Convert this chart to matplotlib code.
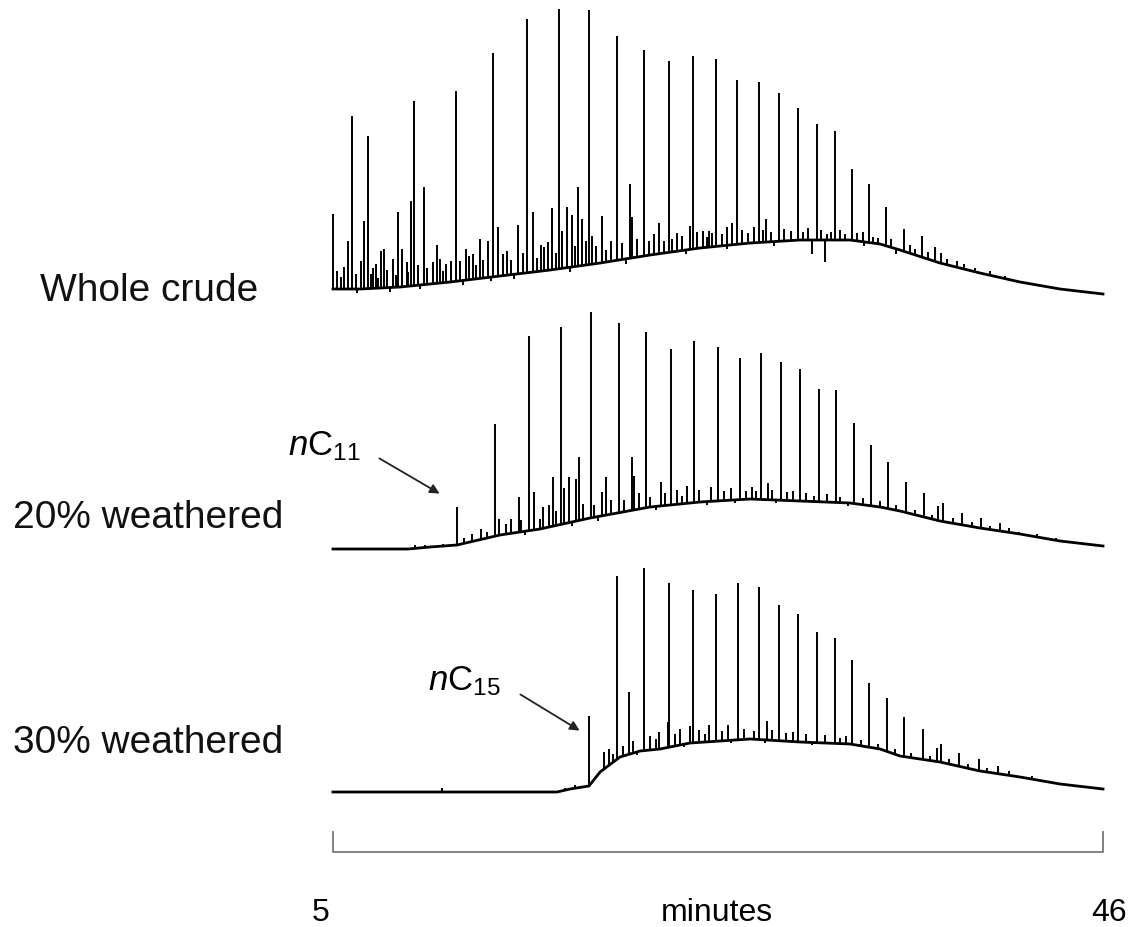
import numpy as np
import matplotlib
matplotlib.use('Agg')
import matplotlib.pyplot as plt

plt.rcParams['font.family'] = ['Liberation Sans', 'DejaVu Sans']
plt.rcParams['mathtext.fontset'] = 'custom'
plt.rcParams['mathtext.rm'] = 'Liberation Sans'
plt.rcParams['mathtext.it'] = 'Liberation Sans:italic'

labels = ['Whole crude', '20% weathered', '30% weathered']

# unresolved hump (baseline) of each trace: minutes, signal
whole_hump_t = [5.00, 6.44, 8.57, 11.23, 13.89, 16.56, 19.22, 21.88, 24.54, 27.21,
                29.87, 32.53, 34.13, 35.19, 37.32, 39.45, 41.58, 43.71, 46.00]
whole_hump_y = [5, 5, 7, 12, 18, 24, 31, 39, 46, 51, 54, 54, 50, 44, 31, 21, 12, 5, 0]

w20_hump_t = [5.00, 9.00, 10.17, 11.60, 13.89, 16.02, 18.69, 21.88, 24.54, 27.21,
              29.87, 32.53, 34.13, 35.19, 37.32, 39.45, 41.58, 43.71, 46.00]
w20_hump_y = [0, 0, 2, 4, 14, 20, 31, 42, 47, 50, 48, 46, 42, 38, 28, 21, 15, 8, 3]

w30_hump_t = [5.00, 16.93, 17.62, 18.63, 19.22, 20.28, 21.35, 22.41, 24.01, 27.21,
              29.87, 32.53, 34.13, 35.19, 37.32, 39.45, 41.58, 43.71, 46.00]
w30_hump_y = [1, 1, 4, 7, 21, 36, 42, 44, 50, 54, 51, 49, 44, 37, 31, 22, 16, 9, 4]

# resolved peaks: retention time (min), apex signal
whole_peak_t = [5.00, 6.01, 6.86, 9.31, 9.85, 11.55, 13.52, 15.33, 17.03, 18.63,
                20.12, 21.56, 22.89, 24.17, 25.39, 26.51, 27.68, 28.75, 29.76, 30.77,
                31.73, 32.64, 33.54, 34.45, 35.41, 36.36, 37.06, 37.38, 38.23]
whole_peak_y = [80, 178, 158, 193, 107, 203, 241, 275, 285, 284,
                258, 244, 233, 238, 235, 214, 212, 201, 186, 170,
                163, 125, 110, 87, 65, 58, 47, 41, 33]
whole_minor_t = [5.80, 6.49, 6.65, 7.29, 7.56, 7.72, 8.20, 8.46, 8.67, 8.94,
                 9.15, 10.54, 10.70, 11.28, 12.08, 12.46, 12.83, 13.25, 13.79, 14.27,
                 14.85, 15.65, 16.08, 16.45, 16.66, 17.19, 17.46, 17.73, 18.05, 18.26,
                 18.79, 19.32, 20.82, 20.92, 22.36, 23.05, 24.01, 24.70, 25.02, 25.98,
                 26.25, 27.42, 28.06, 30.51, 31.20, 31.31, 32.26, 33.22, 33.76]
whole_minor_y = [53, 33, 73, 30, 43, 45, 35, 82, 45, 32,
                 93, 49, 35, 33, 45, 40, 55, 53, 67, 43,
                 69, 82, 49, 52, 86, 63, 87, 79, 107, 75,
                 58, 78, 110, 77, 71, 55, 68, 63, 63, 67,
                 71, 67, 75, 40, 32, 60, 60, 62, 57]

w20_peak_t = [11.60, 13.63, 15.44, 17.14, 18.74, 20.23, 21.67, 23.00, 24.22, 25.50,
              26.67, 27.79, 28.86, 29.87, 30.88, 31.78, 32.74, 33.65, 34.55, 35.51,
              36.47, 37.22, 37.48, 38.49, 39.51, 40.52, 41.53]
w20_peak_y = [42, 125, 213, 222, 237, 226, 217, 200, 208, 202,
              191, 196, 187, 180, 160, 159, 126, 104, 87, 67,
              56, 43, 46, 36, 31, 26, 17]
w20_minor_t = [9.37, 9.90, 10.86, 13.84, 14.90, 15.70, 16.18, 16.50, 16.72, 17.30,
               17.57, 17.94, 18.10, 19.32, 19.54, 20.92, 21.03, 22.47, 23.85, 25.13,
               27.52, 28.16]
w20_minor_y = [4, 4, 5, 30, 52, 57, 42, 44, 72, 61,
               72, 70, 92, 57, 72, 92, 73, 67, 63, 62,
               58, 66]

w30_peak_t = [18.63, 20.12, 21.56, 22.89, 24.17, 25.39, 26.57, 27.68, 28.75, 29.76,
              30.77, 31.73, 32.64, 33.54, 34.50, 35.41, 36.42, 37.16, 37.38, 38.34,
              39.40, 40.41]
w30_peak_y = [77, 217, 225, 210, 203, 199, 210, 206, 188, 179,
              161, 155, 133, 110, 95, 76, 64, 45, 49, 40,
              34, 27]
w30_minor_t = [10.80, 17.35, 17.89, 19.43, 19.70, 20.76, 22.36, 22.84, 24.01, 25.02,
               26.03, 28.11]
w30_minor_y = [5, 5, 8, 41, 44, 101, 61, 71, 67, 68, 68, 72]

# small spikes riding on the hump: time, height relative to hump
whole_noise_t = [5.20, 5.45, 5.60, 6.20, 6.30, 7.00, 7.15, 7.40, 7.90, 8.05,
                 8.35, 9.00, 9.50, 9.65, 10.00, 10.30, 10.85, 11.00, 11.75, 11.90,
                 12.25, 12.60, 13.00, 13.40, 14.05, 14.50, 14.65, 15.10, 15.85, 16.25,
                 16.85, 17.60, 17.90, 18.45, 19.00, 19.55, 19.80, 20.40, 20.60, 21.20,
                 21.80, 22.10, 22.60, 23.30, 23.60, 23.80, 24.40, 24.90, 25.20, 25.70,
                 26.00, 26.80, 27.10, 27.90, 28.30, 28.50, 29.00, 29.40, 30.00, 30.30,
                 31.00, 31.50, 32.00, 32.90, 33.30, 34.00, 34.70, 35.00, 35.70, 36.00,
                 36.70, 37.70, 38.60, 39.20, 40.00, 40.80]
whole_noise_y = [18, 12, 22, 15, -4, 14, 20, 10, 18, -5,
                 12, 14, 20, -4, 16, 22, 12, 18, 20, -5,
                 24, 14, 18, -4, 22, 15, -5, 20, 14, 24,
                 16, -5, 20, 24, 18, 12, 20, 16, -5, 18,
                 14, 20, 12, 18, 14, -4, 16, 10, 14, 12,
                 -4, 14, 10, 12, 10, -4, 12, 10, 8, 12,
                 10, 8, 10, 8, -4, 6, 8, -5, 8, 6,
                 7, 6, 5, 4, 4, 3]

w20_noise_t = [12.00, 12.40, 12.90, 13.20, 14.20, 14.50, 15.00, 15.20, 16.00, 16.90,
               17.70, 18.30, 18.90, 19.10, 19.80, 20.50, 21.30, 21.90, 22.20, 22.70,
               23.30, 23.60, 24.50, 24.90, 25.80, 26.20, 26.40, 27.00, 27.30, 28.40,
               28.60, 29.20, 29.50, 30.20, 30.60, 31.30, 32.00, 32.40, 33.20, 34.10,
               35.00, 36.00, 36.90, 38.00, 39.00, 40.00, 41.00, 42.50, 43.50]
w20_noise_y = [5, 8, 10, 6, 10, 14, 12, -4, 10, 14,
               -4, 16, 12, -4, 14, 12, 16, 10, -4, 12,
               14, 8, 12, -3, 10, 12, -3, 8, 12, 10,
               -3, 8, 10, 8, 6, 8, 6, -3, 7, 6,
               5, 5, 4, 5, 5, 4, 4, 3, 2]

w30_noise_t = [19.90, 20.45, 21.00, 21.20, 21.90, 22.20, 23.20, 23.50, 23.70, 24.50,
               24.80, 25.70, 26.20, 26.90, 27.40, 28.00, 28.40, 29.10, 29.50, 30.20,
               30.50, 31.20, 32.00, 32.30, 33.10, 34.00, 34.90, 35.80, 36.80, 37.80,
               38.80, 39.80, 41.00, 42.20]
w30_noise_y = [8, 10, 12, -3, 14, 10, 12, 16, -3, 12,
               8, 10, -3, 10, 8, -3, 10, 8, 10, 8,
               -3, 8, 6, 8, 6, 5, 5, 5, 5, 5,
               4, 4, 4, 3]

traces = [
    (whole_hump_t, whole_hump_y, whole_peak_t + whole_minor_t, whole_peak_y + whole_minor_y,
     whole_noise_t, whole_noise_y),
    (w20_hump_t, w20_hump_y, w20_peak_t + w20_minor_t, w20_peak_y + w20_minor_y,
     w20_noise_t, w20_noise_y),
    (w30_hump_t, w30_hump_y, w30_peak_t + w30_minor_t, w30_peak_y + w30_minor_y,
     w30_noise_t, w30_noise_y),
]
offsets = [633, 378, 134]
label_pos = [(40, 301), (13, 528), (13, 753)]

W, H = 1134, 928
fig = plt.figure(figsize=(W / 100, H / 100), dpi=100)
ax = fig.add_axes([0, 0, 1, 1])
ppm = 770 / 41.0
ax.set_xlim(5 - 333 / ppm, 5 + (W - 333) / ppm)
ax.set_ylim(0, H)
ax.axis('off')

for (ht, hy, pt, py, nt, ny), off, lab, (lx, ly) in zip(traces, offsets, labels, label_pos):
    ht = np.array(ht)
    hy = np.array(hy) + off
    ax.plot(ht, hy, color='black', lw=2.0, solid_joinstyle='round')
    pt = np.array(pt)
    ax.vlines(pt, np.interp(pt, ht, hy), np.array(py) + off, color='black', lw=1.4)
    nt = np.array(nt)
    nb = np.interp(nt, ht, hy)
    ax.vlines(nt, nb, nb + np.array(ny), color='black', lw=1.4)
    fig.text(lx / W, 1 - ly / H, lab, fontsize=28, va='baseline', ha='left', color='#111111')

# time scale bracket
ax.plot([5, 5, 46, 46], [H - 833, H - 853, H - 853, H - 833], color='#777777', lw=1.3)
fig.text(321 / W, 1 - 921 / H, '5', fontsize=23, ha='center', va='baseline')
fig.text(1109 / W, 1 - 921 / H, '46', fontsize=23, ha='center', va='baseline')
fig.text(717 / W, 1 - 921 / H, 'minutes', fontsize=23, ha='center', va='baseline')

# marker annotations
fig.text(288 / W, 1 - 455 / H, r'$n\mathrm{C}_{11}$', fontsize=25, ha='left', va='baseline')
ax.annotate('', xy=(442, H - 496), xytext=(377, H - 458), xycoords='figure pixels',
            textcoords='figure pixels',
            arrowprops=dict(arrowstyle='-|>', color='#222222', lw=1.3, mutation_scale=14))
fig.text(428 / W, 1 - 690 / H, r'$n\mathrm{C}_{15}$', fontsize=25, ha='left', va='baseline')
ax.annotate('', xy=(582, H - 733), xytext=(518, H - 694), xycoords='figure pixels',
            textcoords='figure pixels',
            arrowprops=dict(arrowstyle='-|>', color='#222222', lw=1.3, mutation_scale=14))

fig.savefig('out.png', dpi=100)
